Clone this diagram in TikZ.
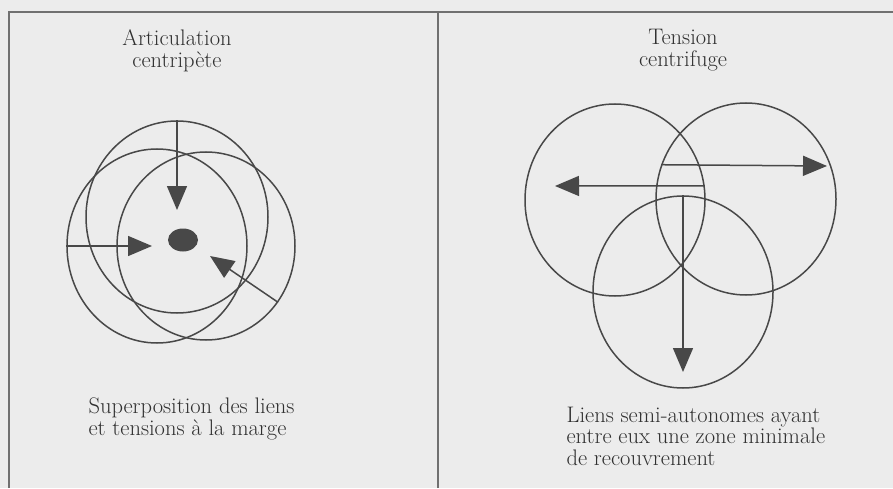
\documentclass[tikz,border=0pt]{standalone}
\usepackage{tikz}
\usetikzlibrary{arrows.meta,shapes.geometric}
\definecolor{paper}{HTML}{ECECEC}
\definecolor{ink}{HTML}{484848}
\definecolor{rule}{HTML}{707070}
\definecolor{print}{HTML}{303030}
\tikzset{
  ring/.style={draw=ink,line width=1.5pt,ellipse,inner sep=0pt,
    minimum width=180pt,minimum height=192pt},
  arrow/.style={-{Triangle[length=24pt,width=20pt]},draw=ink,line width=1.5pt},
  heading/.style={align=center,anchor=base,font=\fontsize{22.5}{22}\selectfont,text=print},
  caption/.style={align=left,anchor=base west,font=\fontsize{22.5}{21.5}\selectfont,text=print},
  frameline/.style={draw=rule,line width=2pt}
}

\begin{document}
\begin{tikzpicture}[x=1pt,y=1pt]
  \fill[paper] (0,0) rectangle (893,488);
  \useasboundingbox (0,0) rectangle (893,488);
  % frame
  \draw[frameline] (8.5,0) -- (8.5,476) -- (893,476);
  \draw[frameline] (437.5,0) -- (437.5,476);

  % centripete side
  \node[heading] (titleA) at (177,420) {Articulation\\centripète};
  \node[ring,minimum width=182pt] (topring) at (177,271) {};
  \node[ring,minimum height=194pt] (leftring) at (157,242) {};
  \node[ring,minimum width=178pt,minimum height=188pt] (lowring) at (206,242) {};
  \node[ellipse,fill=ink,inner sep=0pt,minimum width=30pt,minimum height=23pt] (core) at (183,248) {};
  \coordinate (tipT) at (177,278);
  \coordinate (tipL) at (152,242);
  \coordinate (tipR) at (210,232);
  \draw[arrow] (topring.north) -- (tipT);
  \draw[arrow] (leftring.west) -- (tipL);
  \draw[arrow] (lowring.-38) -- (tipR);
  \node[caption] (captionA) at (85,53) {Superposition des liens\\et tensions à la marge};

  % centrifuge side
  \node[heading] (titleB) at (683,421) {Tension\\centrifuge};
  \node[ring] (westring) at (615,288) {};
  \node[ring] (eastring) at (746,289) {};
  \node[ring] (southring) at (683,196) {};
  \coordinate (tipE) at (827,322);
  \coordinate (tipW) at (555,302);
  \coordinate (tipS) at (683,116);
  \draw[arrow] (eastring.158) -- (tipE);
  \draw[arrow] (westring.9) -- (tipW);
  \draw[arrow] (southring.north) -- (tipS);
  \node[caption] (captionB) at (563,23) {Liens semi-autonomes ayant\\entre eux une zone minimale\\de recouvrement};
\end{tikzpicture}
\end{document}
